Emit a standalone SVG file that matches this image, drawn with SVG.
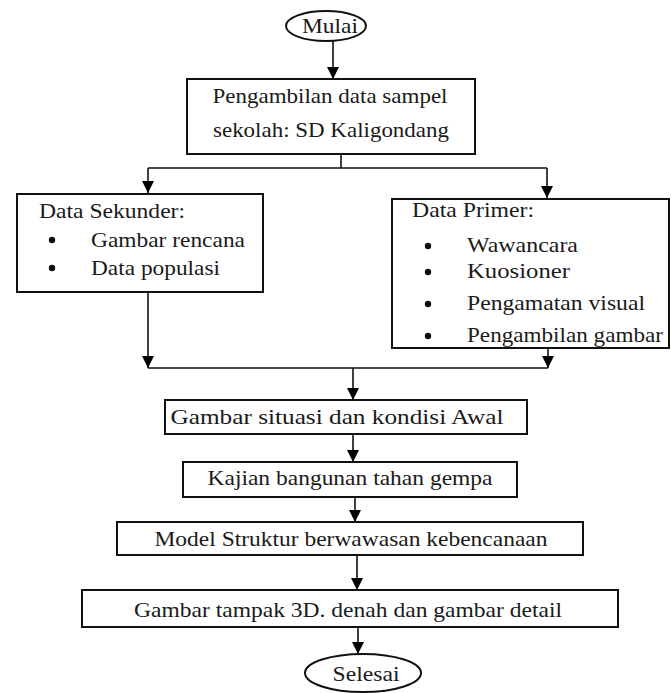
<svg xmlns="http://www.w3.org/2000/svg" width="671" height="693" viewBox="0 0 671 693">
<defs>
<marker id="ah" markerUnits="userSpaceOnUse" markerWidth="12" markerHeight="12" refX="10" refY="5" orient="auto" viewBox="0 0 10 10">
<path d="M0,0 L10,5 L0,10 Z" fill="#000"/>
</marker>
<style>
.box{fill:#fff;stroke:#111;stroke-width:2}
text{font-family:"Liberation Serif","Times New Roman","DejaVu Serif",serif;font-size:21px;fill:#1a1a1a}
.c{stroke:#111;stroke-width:1.6;fill:none}
.a{stroke:#111;stroke-width:1.6;fill:none;marker-end:url(#ah)}
</style>
</defs>
<rect width="671" height="693" fill="#fff"/>
<g id="connectors">
<line class="a" x1="333" y1="41" x2="333" y2="79"/>
<line class="c" x1="341" y1="154" x2="341" y2="168" stroke-width="1"/>
<line class="c" x1="148" y1="168" x2="547" y2="168"/>
<line class="a" x1="148" y1="168" x2="148" y2="193"/>
<line class="a" x1="547" y1="168" x2="547" y2="198"/>
<line class="a" x1="148" y1="292" x2="148" y2="368"/>
<line class="a" x1="548" y1="348" x2="548" y2="368"/>
<line class="c" x1="148" y1="368" x2="548" y2="368"/>
<line class="a" x1="353" y1="368" x2="353" y2="400"/>
<line class="a" x1="353" y1="434" x2="353" y2="462"/>
<line class="a" x1="355" y1="497" x2="355" y2="522"/>
<line class="a" x1="357" y1="555" x2="357" y2="590"/>
<line class="a" x1="358" y1="627" x2="358" y2="654"/>
</g>
<g id="mulai">
<ellipse class="box" cx="326" cy="26" rx="40" ry="15"/>
<text x="330" y="33" text-anchor="middle" textLength="56" lengthAdjust="spacingAndGlyphs">Mulai</text>
</g>
<g id="pengambilan">
<rect class="box" x="187" y="79" width="288" height="75"/>
<text x="330" y="103" text-anchor="middle" textLength="235" lengthAdjust="spacingAndGlyphs">Pengambilan data sampel</text>
<text x="331" y="137" text-anchor="middle" textLength="236" lengthAdjust="spacingAndGlyphs">sekolah: SD Kaligondang</text>
</g>
<g id="sekunder">
<rect class="box" x="17" y="194" width="246" height="98"/>
<text x="39" y="218" textLength="146" lengthAdjust="spacingAndGlyphs">Data Sekunder:</text>
<circle cx="52" cy="240" r="3.2" fill="#111"/>
<text x="91" y="247" textLength="154" lengthAdjust="spacingAndGlyphs">Gambar rencana</text>
<circle cx="52" cy="268" r="3.2" fill="#111"/>
<text x="91" y="275" textLength="129" lengthAdjust="spacingAndGlyphs">Data populasi</text>
</g>
<g id="primer">
<rect class="box" x="392" y="199" width="277" height="149"/>
<text x="412" y="217" textLength="122" lengthAdjust="spacingAndGlyphs">Data Primer:</text>
<circle cx="428" cy="246" r="3.2" fill="#111"/>
<text x="467" y="252" textLength="111" lengthAdjust="spacingAndGlyphs">Wawancara</text>
<circle cx="428" cy="272" r="3.2" fill="#111"/>
<text x="467" y="278" textLength="103" lengthAdjust="spacingAndGlyphs">Kuosioner</text>
<circle cx="428" cy="304" r="3.2" fill="#111"/>
<text x="467" y="310" textLength="178" lengthAdjust="spacingAndGlyphs">Pengamatan visual</text>
<circle cx="428" cy="336" r="3.2" fill="#111"/>
<text x="467" y="342" textLength="196" lengthAdjust="spacingAndGlyphs">Pengambilan gambar</text>
</g>
<g id="situasi">
<rect class="box" x="165" y="400" width="362" height="34"/>
<text x="337" y="424" text-anchor="middle" textLength="333" lengthAdjust="spacingAndGlyphs">Gambar situasi dan kondisi Awal</text>
</g>
<g id="kajian">
<rect class="box" x="183" y="462" width="334" height="35"/>
<text x="350" y="485" text-anchor="middle" textLength="285" lengthAdjust="spacingAndGlyphs">Kajian bangunan tahan gempa</text>
</g>
<g id="model">
<rect class="box" x="117" y="522" width="466" height="33"/>
<text x="351" y="546" text-anchor="middle" textLength="393" lengthAdjust="spacingAndGlyphs">Model Struktur berwawasan kebencanaan</text>
</g>
<g id="tampak">
<rect class="box" x="82" y="590" width="536" height="37"/>
<text x="348" y="617" text-anchor="middle" textLength="428" lengthAdjust="spacingAndGlyphs">Gambar tampak 3D. denah dan gambar detail</text>
</g>
<g id="selesai">
<ellipse class="box" cx="363" cy="673" rx="58" ry="19"/>
<text x="366" y="681" text-anchor="middle" textLength="67" lengthAdjust="spacingAndGlyphs">Selesai</text>
</g>
</svg>
